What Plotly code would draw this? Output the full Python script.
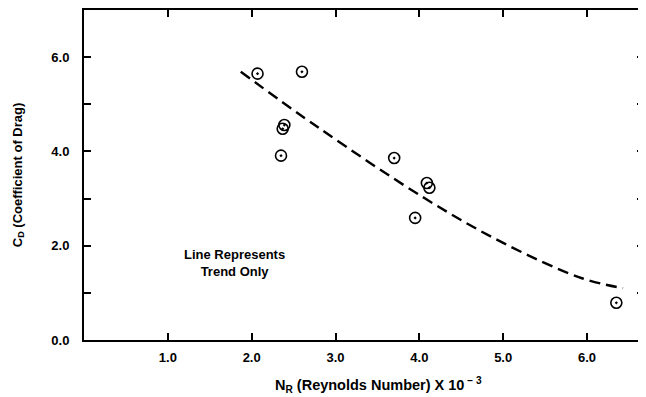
import plotly.graph_objects as go

# data points (Reynolds number x 10^-3, coefficient of drag)
nr_points = [2.07, 2.60, 2.39, 2.37, 2.35, 3.70, 4.09, 4.12, 3.95, 6.35]
cd_points = [5.65, 5.69, 4.56, 4.48, 3.91, 3.86, 3.33, 3.23, 2.59, 0.79]

# trend line (hand-drawn trend)
nr_trend = [1.87, 2.8, 4.07, 5.0, 5.94, 6.43]
cd_trend = [5.69, 4.5, 3.0, 2.06, 1.31, 1.10]

x_tickvals = [1, 2, 3, 4, 5, 6]
x_ticktext = ["1.0", "2.0", "3.0", "4.0", "5.0", "6.0"]
y_tickvals = [0, 2, 4, 6]
y_ticktext = ["0.0", "2.0", "4.0", "6.0"]

FAM = "Liberation Sans, Arial, sans-serif"
tick_font = dict(family=FAM, size=13, color="black", weight="bold")
title_font = dict(family=FAM, size=13, color="black", weight="bold")
xtitle_font = dict(family=FAM, size=14.5, color="black", weight="bold")

fig = go.Figure()
fig.add_trace(go.Scatter(
    x=nr_trend, y=cd_trend, mode="lines", line_shape="spline",
    line=dict(color="black", width=2.4, dash="11px,6px"), hoverinfo="skip"))
fig.add_trace(go.Scatter(
    x=nr_points, y=cd_points, mode="markers",
    marker=dict(symbol="circle-open-dot", size=11, color="black", line=dict(width=1.6, color="black"))))

fig.add_annotation(x=1.79, y=1.64, text="Line Represents<br>Trend Only", showarrow=False,
                   font=dict(family=FAM, size=13, color="black", weight="bold"))

# x-axis title placed as a paper annotation for exact horizontal position
fig.add_annotation(xref="paper", yref="paper", x=0.525, y=-0.137, xanchor="center", yanchor="middle",
                   text="N<sub>R</sub> (Reynolds Number) X 10<sup> − 3</sup>", showarrow=False,
                   font=xtitle_font)

axis_common = dict(showline=True, linecolor="black", linewidth=2, mirror="allticks",
                   ticks="inside", ticklen=7, tickwidth=2, tickcolor="black",
                   showgrid=False, zeroline=False, tickfont=tick_font)

fig.update_xaxes(range=[0, 6.68], tickvals=x_tickvals, ticktext=x_ticktext, ticklabelstandoff=4,
                 **axis_common)
fig.update_yaxes(range=[0, 7], tickvals=y_tickvals, ticktext=y_ticktext, ticklabelstandoff=10,
                 minor=dict(dtick=1, ticks="inside", ticklen=7, tickwidth=2, tickcolor="black"),
                 title=dict(text="C<sub>D</sub> (Coefficient of Drag)", font=title_font, standoff=26),
                 **axis_common)

fig.update_layout(width=638, height=389, margin=dict(l=76, r=2, t=2, b=57, autoexpand=False),
                  plot_bgcolor="white", paper_bgcolor="white", showlegend=False)

fig.write_html("out.html")
